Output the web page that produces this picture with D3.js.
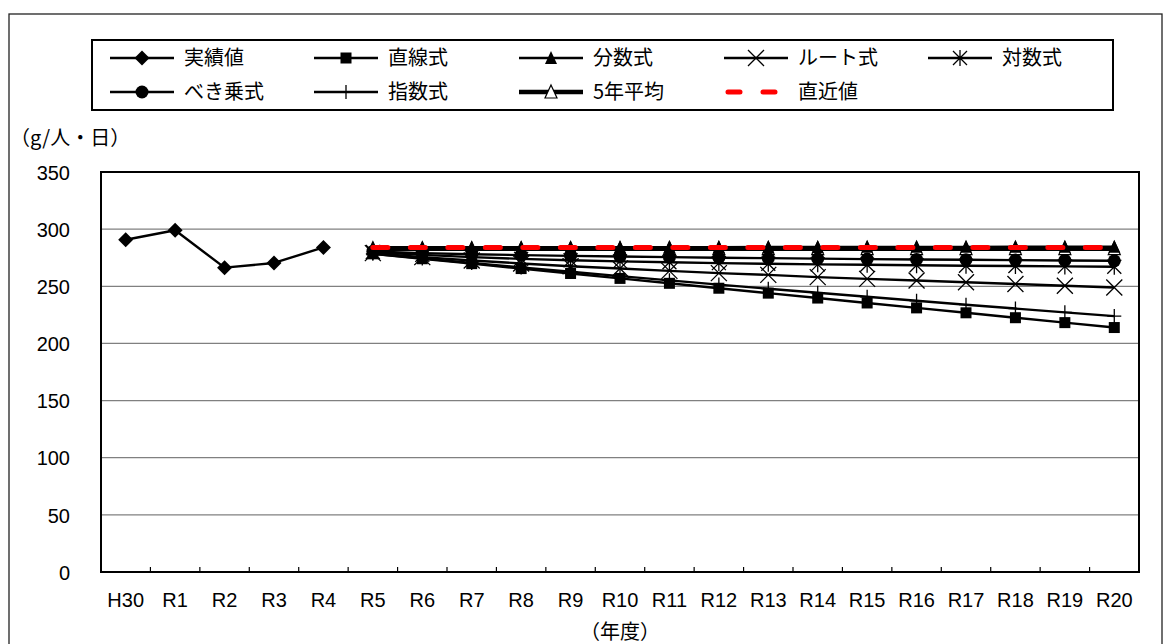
<!DOCTYPE html>
<html>
<head>
<meta charset="utf-8">
<script src="https://cdn.jsdelivr.net/npm/d3@7"></script>
<style>
  body { margin: 0; background: #fff; }
  text { font-family: "Liberation Sans", "Noto Sans CJK JP", sans-serif; fill: #000; }
  .jp { font-family: "Noto Sans CJK JP", sans-serif; }
</style>
</head>
<body>
<svg id="chart" width="1173" height="644"></svg>
<script>
// Fiscal years: actual results (H30–R4) and projections (R5–R20)
const categories = ["H30","R1","R2","R3","R4","R5","R6","R7","R8","R9","R10",
                    "R11","R12","R13","R14","R15","R16","R17","R18","R19","R20"];
const actualYears = ["H30","R1","R2","R3","R4"];
const forecastYears = ["R5","R6","R7","R8","R9","R10","R11","R12",
                       "R13","R14","R15","R16","R17","R18","R19","R20"];

// g per person per day
const actual      = [290.7, 299.0, 266.3, 270.4, 284.0];
const linear      = [278.4, 274.1, 269.8, 265.5, 261.2, 256.9, 252.6, 248.3,
                     244.0, 239.7, 235.4, 231.1, 226.8, 222.5, 218.2, 213.9];
const fractional  = [283.0, 283.5, 283.8, 284.0, 284.1, 284.2, 284.3, 284.3,
                     284.4, 284.4, 284.5, 284.5, 284.5, 284.6, 284.6, 284.6];
const rootFit     = [279.0, 275.5, 272.5, 270.0, 267.5, 265.5, 263.5, 261.5,
                     260.0, 258.0, 256.5, 255.0, 253.5, 252.0, 250.5, 249.0];
const logFit      = [280.0, 277.5, 275.5, 274.0, 272.8, 271.8, 271.0, 270.3,
                     269.7, 269.2, 268.8, 268.4, 268.0, 267.7, 267.4, 267.1];
const powerFit    = [280.5, 279.0, 278.0, 277.3, 276.6, 276.0, 275.5, 275.0,
                     274.6, 274.2, 273.8, 273.5, 273.2, 272.9, 272.6, 272.3];
const expFit      = [278.4, 274.4, 270.4, 266.5, 262.7, 258.9, 255.2, 251.5,
                     247.9, 244.3, 240.8, 237.3, 233.9, 230.5, 227.2, 223.9];
const fiveYearAvg = [283.0, 283.0, 283.0, 283.0, 283.0, 283.0, 283.0, 283.0,
                     283.0, 283.0, 283.0, 283.0, 283.0, 283.0, 283.0, 283.0];
const latestValue = [284.0, 284.0, 284.0, 284.0, 284.0, 284.0, 284.0, 284.0,
                     284.0, 284.0, 284.0, 284.0, 284.0, 284.0, 284.0, 284.0];
const yTicks = [0, 50, 100, 150, 200, 250, 300, 350];

const series = [
  { name: "実績値",  years: actualYears,   values: actual,      marker: "diamond",  width: 2.4 },
  { name: "直線式",  years: forecastYears, values: linear,      marker: "square",   width: 2.4 },
  { name: "分数式",  years: forecastYears, values: fractional,  marker: "triangle", width: 2.4 },
  { name: "ルート式", years: forecastYears, values: rootFit,     marker: "x",        width: 2.4 },
  { name: "対数式",  years: forecastYears, values: logFit,      marker: "asterisk", width: 2.4 },
  { name: "べき乗式", years: forecastYears, values: powerFit,    marker: "circle",   width: 2.4 },
  { name: "指数式",  years: forecastYears, values: expFit,      marker: "plus",     width: 2.4 },
  { name: "5年平均", years: forecastYears, values: fiveYearAvg, marker: "opentri",  width: 5 },
  { name: "直近値",  years: forecastYears, values: latestValue, marker: null, width: 5, color: "#ff0000", dash: "15,22.5" }
];
// painting order (later = on top)
const drawOrder = ["実績値","5年平均","直線式","指数式","ルート式","対数式","べき乗式","分数式","直近値"];

const svg = d3.select("#chart");
const plot = { left: 101, right: 1139, top: 172, bottom: 572 };

// outer frame
svg.append("rect").attr("x", 9).attr("y", 14).attr("width", 1153).attr("height", 660)
  .attr("fill", "none").attr("stroke", "#222").attr("stroke-width", 1.3);

const x = d3.scaleBand().domain(categories).range([plot.left, plot.right]).padding(0);
const y = d3.scaleLinear().domain([0, 350]).range([plot.bottom, plot.top]);
const cx = d => x(d) + x.bandwidth() / 2;

// gridlines
svg.append("g").selectAll("line").data(yTicks.filter(t => t > 0 && t < 350)).join("line")
  .attr("x1", plot.left).attr("x2", plot.right)
  .attr("y1", d => y(d)).attr("y2", d => y(d))
  .attr("stroke", "#808080").attr("stroke-width", 1.3);

// plot frame
svg.append("rect").attr("x", plot.left).attr("y", plot.top)
  .attr("width", plot.right - plot.left).attr("height", plot.bottom - plot.top)
  .attr("fill", "none").attr("stroke", "#000").attr("stroke-width", 2);

// y axis labels
const yAxis = d3.axisLeft(y).tickValues(yTicks).tickSize(0).tickPadding(0);
const gy = svg.append("g").attr("transform", `translate(70,0)`).call(yAxis);
gy.select(".domain").remove();
gy.selectAll("text").attr("font-size", 20).attr("font-family", "Liberation Sans, sans-serif")
  .attr("dy", "0.36em");

// x axis: labels centered in bands, tick marks on band boundaries pointing inward
const xAxis = d3.axisBottom(x).tickSize(0).tickPadding(0);
const gx = svg.append("g").attr("transform", `translate(0,${plot.bottom})`).call(xAxis);
gx.select(".domain").remove();
gx.selectAll("text").attr("font-size", 20).attr("font-family", "Liberation Sans, sans-serif")
  .attr("y", 28).attr("dy", "0.36em");
svg.append("g").selectAll("line").data(categories.slice(1)).join("line")
  .attr("x1", d => x(d)).attr("x2", d => x(d))
  .attr("y1", plot.bottom).attr("y2", plot.bottom - 5)
  .attr("stroke", "#000").attr("stroke-width", 1.2);

// axis titles
svg.append("text").attr("class", "jp").attr("x", 10).attr("y", 145)
  .attr("font-size", 20).text("（g/人・日）");
svg.append("text").attr("class", "jp").attr("x", (plot.left + plot.right) / 2).attr("y", 639)
  .attr("text-anchor", "middle").attr("font-size", 20).text("（年度）");

// marker drawing
function drawMarker(g, type, px, py) {
  const k = "#000";
  switch (type) {
    case "diamond": {
      const r = 7.5;
      g.append("path").attr("d", `M${px},${py - r}L${px + r},${py}L${px},${py + r}L${px - r},${py}Z`).attr("fill", k);
      break;
    }
    case "square": {
      const r = 5.5;
      g.append("rect").attr("x", px - r).attr("y", py - r).attr("width", 2 * r).attr("height", 2 * r).attr("fill", k);
      break;
    }
    case "triangle": {
      const r = 6;
      g.append("path").attr("d", `M${px},${py - r - 1}L${px + r},${py + r}L${px - r},${py + r}Z`).attr("fill", k);
      break;
    }
    case "opentri": {
      const r = 6;
      g.append("path").attr("d", `M${px},${py - r - 1}L${px + r},${py + r}L${px - r},${py + r}Z`)
        .attr("fill", "#fff").attr("stroke", k).attr("stroke-width", 1.2);
      break;
    }
    case "circle":
      g.append("circle").attr("cx", px).attr("cy", py).attr("r", 6.5).attr("fill", k);
      break;
    case "x": {
      const r = 8;
      g.append("path").attr("d", `M${px - r},${py - r}L${px + r},${py + r}M${px + r},${py - r}L${px - r},${py + r}`)
        .attr("stroke", k).attr("stroke-width", 1.3).attr("fill", "none");
      break;
    }
    case "asterisk": {
      const r = 7;
      g.append("path").attr("d", `M${px - r},${py - r}L${px + r},${py + r}M${px + r},${py - r}L${px - r},${py + r}M${px},${py - r - 1}L${px},${py + r + 1}`)
        .attr("stroke", k).attr("stroke-width", 1.3).attr("fill", "none");
      break;
    }
    case "plus": {
      const r = 7;
      g.append("path").attr("d", `M${px - r},${py}L${px + r},${py}M${px},${py - r}L${px},${py + r}`)
        .attr("stroke", k).attr("stroke-width", 1.3).attr("fill", "none");
      break;
    }
  }
}

const line = d3.line();
drawOrder.forEach(name => {
  const s = series.find(d => d.name === name);
  const pts = s.years.map((yr, i) => [cx(yr), y(s.values[i])]);
  const g = svg.append("g");
  g.append("path").attr("d", line(pts)).attr("fill", "none")
    .attr("stroke", s.color || "#000").attr("stroke-width", s.width)
    .attr("stroke-linejoin", "round")
    .attr("stroke-linecap", s.dash ? "round" : "butt")
    .attr("stroke-dasharray", s.dash || null);
  if (s.marker) pts.forEach(p => drawMarker(g, s.marker, p[0], p[1]));
});

// legend
const legend = svg.append("g");
legend.append("rect").attr("x", 92).attr("y", 40).attr("width", 1021).attr("height", 70)
  .attr("fill", "#fff").attr("stroke", "#000").attr("stroke-width", 2);
const colX = [110, 314, 519, 724, 928];
const rowY = [58, 92];
series.forEach((s, i) => {
  const col = i < 5 ? i : i - 5;
  const row = i < 5 ? 0 : 1;
  const lx = colX[col], ly = rowY[row];
  const g = legend.append("g");
  if (s.dash) {
    g.append("line").attr("x1", lx + 4).attr("x2", lx + 56).attr("y1", ly).attr("y2", ly)
      .attr("stroke", s.color).attr("stroke-width", s.width).attr("stroke-linecap", "round")
      .attr("stroke-dasharray", "12,23");
  } else {
    g.append("line").attr("x1", lx).attr("x2", lx + 64).attr("y1", ly).attr("y2", ly)
      .attr("stroke", "#000").attr("stroke-width", s.marker === "opentri" ? 4.5 : 2.6);
    drawMarker(g, s.marker, lx + 32, ly);
  }
  g.append("text").attr("class", "jp").attr("x", lx + 74).attr("y", ly)
    .attr("dy", "0.35em").attr("font-size", 20).text(s.name);
});
</script>
</body>
</html>
